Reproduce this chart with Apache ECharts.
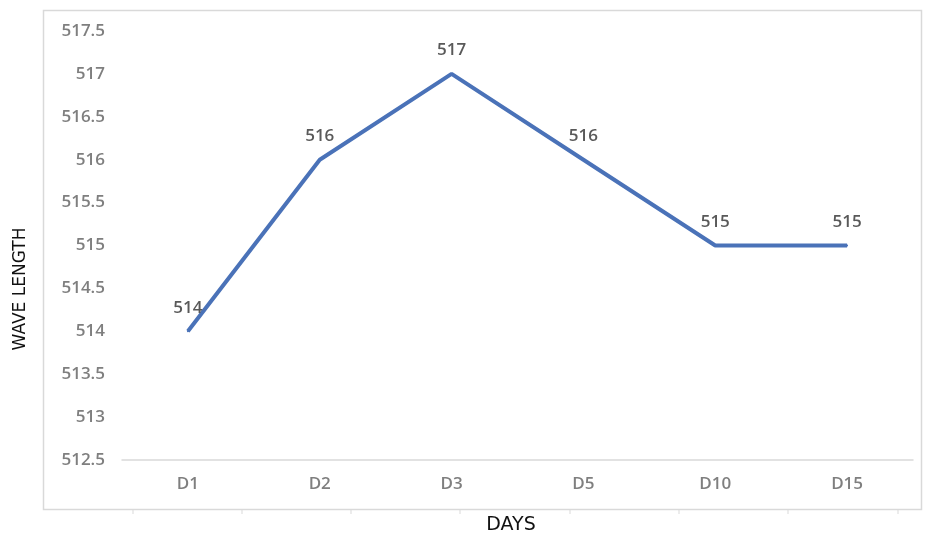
<!DOCTYPE html>
<html>
<head>
<meta charset="utf-8">
<script src="https://cdn.jsdelivr.net/npm/echarts@6/dist/echarts.min.js"></script>
<style>
  html, body { margin: 0; padding: 0; background: #ffffff; }
  #chart { width: 925px; height: 537px; }
</style>
</head>
<body>
<div id="chart"></div>
<script>
// Measurement days and the recorded wave length on each
const days = ['D1', 'D2', 'D3', 'D5', 'D10', 'D15'];
const waveLength = [514, 516, 517, 516, 515, 515];

// Value axis range and step
const yMin = 512.5;
const yMax = 517.5;
const yStep = 0.5;

// Axis titles
const xTitle = 'DAYS';
const yTitle = 'WAVE LENGTH';

const chart = echarts.init(document.getElementById('chart'), null, { renderer: 'canvas' });

const labelFont = '"Open Sans", "Liberation Sans", sans-serif';
const titleFont = '"DejaVu Sans", sans-serif';

// small ticks on the outer frame under the chart box
const frameTicks = [133, 242, 351, 460, 570, 679, 788, 898].map(function (x) {
  return {
    type: 'line',
    shape: { x1: x, y1: 510, x2: x, y2: 514 },
    style: { stroke: '#d9d9d9', lineWidth: 1 },
    silent: true
  };
});

chart.setOption({
  backgroundColor: '#ffffff',
  animation: false,
  graphic: [
    {
      type: 'rect',
      shape: { x: 43.5, y: 10.5, width: 878, height: 499 },
      style: { fill: 'none', stroke: '#d9d9d9', lineWidth: 1.5 },
      silent: true,
      z: -1
    },
    {
      type: 'text',
      x: 21,
      y: 289,
      rotation: Math.PI / 2,
      style: {
        text: yTitle,
        fill: '#111111',
        font: '17px ' + titleFont,
        textAlign: 'center',
        textVerticalAlign: 'middle'
      }
    },
    {
      type: 'text',
      x: 511,
      y: 525,
      style: {
        text: xTitle,
        fill: '#111111',
        font: '19px ' + titleFont,
        textAlign: 'center',
        textVerticalAlign: 'middle'
      }
    }
  ].concat(frameTicks),
  grid: {
    left: 122,
    right: 12,
    top: 31,
    bottom: 77,
    containLabel: false
  },
  xAxis: {
    type: 'category',
    data: days,
    boundaryGap: true,
    axisLine: { show: true, lineStyle: { color: '#d9d9d9', width: 1.5 } },
    axisTick: { show: false },
    axisLabel: { color: '#7f7f7f', fontSize: 17, fontWeight: 600, fontFamily: labelFont, margin: 16 },
    splitLine: { show: false }
  },
  yAxis: {
    type: 'value',
    min: yMin,
    max: yMax,
    interval: yStep,
    axisLine: { show: false },
    axisTick: { show: false },
    axisLabel: { color: '#7f7f7f', fontSize: 17, fontWeight: 600, fontFamily: labelFont, margin: 17 },
    splitLine: { show: false }
  },
  series: [
    {
      type: 'line',
      data: waveLength,
      symbol: 'circle',
      symbolSize: 2,
      showSymbol: true,
      itemStyle: { color: '#4a72b8' },
      lineStyle: { color: '#4a72b8', width: 4 },
      label: {
        show: true,
        position: 'top',
        distance: 14,
        color: '#595959',
        fontSize: 17,
        fontWeight: 600,
        fontFamily: labelFont
      }
    }
  ]
});
</script>
</body>
</html>
